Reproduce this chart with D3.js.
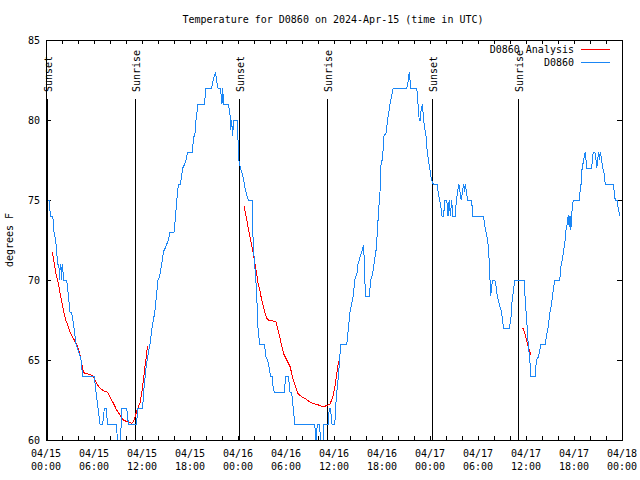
<!DOCTYPE html>
<html><head><meta charset="utf-8">
<script src="https://cdn.jsdelivr.net/npm/d3@7"></script>
<style>
body{margin:0;background:#fff}
svg{display:block;background:#fff}
text{font-family:"DejaVu Sans Mono","Liberation Mono",monospace;font-size:10px;fill:#000}
</style>
</head><body>
<svg id="c" width="640" height="480"></svg>
<script>
const chartTitle = "Temperature for D0860 on 2024-Apr-15 (time in UTC)";
const yAxisLabel = "degrees F";
const seriesNames = ["D0860 Analysis", "D0860"];
const seriesColors = ["#ff0000", "#1a86f5"];
const xTickHours = [0,6,12,18,24,30,36,42,48,54,60,66,72];
const xTickDates = ["04/15","04/15","04/15","04/15","04/16","04/16","04/16","04/16","04/17","04/17","04/17","04/17","04/18"];
const xTickTimes = ["00:00","06:00","12:00","18:00","00:00","06:00","12:00","18:00","00:00","06:00","12:00","18:00","00:00"];
const yTicks = [60,65,70,75,80,85];
const sunsetHours = [0.12, 24.16, 48.2];
const sunriseHours = [11.16, 35.16, 59.04];

// observed station temperature (hours since 04/15 00:00 UTC, deg F)
const observed = [
[0.25,75],[0.4,75],[0.55,74],[0.85,74],[1.0,73],[1.2,72.5],[1.3,72],[1.45,71],[1.6,71],[1.7,70],[1.78,71],[1.85,71],[1.92,70],[2.0,70.8],[2.08,71],[2.17,70],[2.58,70],[2.8,69],[3.0,68],[3.2,68],[3.5,67],[3.75,66],[4.1,65.5],[4.375,65],[4.58,64],[6.04,64],[6.25,63],[6.5,62],[6.75,61],[7.08,61],[7.3,62],[7.5,62],[7.7,61],[8.83,61],[8.95,59.5],[9.3,59.5],[9.45,62],[10.08,62],[10.3,61],[11.33,61],[11.46,62],[12.08,62],[12.2,63],[12.5,64.5],[12.8,65.5],[13.0,66],[13.25,67],[13.6,68],[13.8,69],[14.0,70],[14.2,70.2],[14.46,71],[14.7,71.8],[14.9,72],[15.3,72.5],[15.5,73],[16.0,73],[16.2,74],[16.35,75],[16.55,76],[16.8,76],[17.1,77],[17.3,77.2],[17.5,77.5],[17.7,78],[18.3,78],[18.45,79],[18.6,79],[18.75,80],[18.9,80.6],[19.0,81],[19.8,81],[20.0,82],[20.7,82],[20.9,82.5],[21.2,83],[21.3,82.5],[21.5,82],[21.8,82],[22.0,81],[22.08,82],[22.2,81],[22.8,81],[23.0,80.3],[23.1,79.4],[23.2,80],[23.33,79],[23.45,80],[23.9,80],[24.04,78.3],[24.1,77.5],[24.3,77],[24.5,76.7],[24.7,76.3],[24.9,75.7],[25.1,75.3],[25.3,75],[25.8,75],[25.9,72],[26.04,71.3],[26.15,70.5],[26.3,69.5],[26.4,68.3],[26.5,67],[26.7,66],[27.3,66],[27.5,65.2],[27.7,65],[27.9,64.5],[28.05,64],[28.3,64],[28.4,63.2],[28.55,63],[29.8,63],[29.95,64],[30.3,64],[30.5,63],[30.7,63],[30.9,62],[31.1,61],[33.6,61],[33.75,59.5],[33.9,61],[34.2,61],[34.35,59.5],[34.6,59.5],[34.75,61],[35.3,61],[35.4,62],[35.55,62],[35.75,61],[36.1,61],[36.2,62],[36.35,63],[36.55,64],[36.85,66],[37.6,66],[37.8,67],[38.0,68],[38.2,68.5],[38.4,69],[38.6,70],[38.9,70.5],[39.0,71],[39.3,71.5],[39.6,72],[39.7,72.2],[39.78,71.2],[39.85,70],[39.95,69],[40.4,69],[40.6,70],[40.8,70.3],[41.0,71],[41.3,72],[41.45,73.3],[41.6,74.5],[41.75,75.5],[41.9,77.5],[42.05,77.5],[42.25,79],[42.5,79.2],[42.7,80],[42.85,80.5],[43.0,81],[43.2,81.5],[43.4,82],[45.1,82],[45.3,82.5],[45.4,83],[45.5,82.5],[45.6,82],[46.35,82],[46.5,81],[46.65,80],[46.8,80],[46.9,80.7],[47.05,81],[47.2,80],[47.3,79.6],[47.5,79],[47.6,78.3],[47.75,77.7],[47.85,77.3],[48.0,76.9],[48.1,76.5],[48.25,76.2],[48.4,76],[48.9,76],[49.05,75.4],[49.2,75],[49.35,74.6],[49.5,74],[49.7,74],[49.85,75],[50.1,75],[50.25,74],[50.4,75],[50.55,74],[50.7,75],[50.85,74],[51.15,74],[51.3,75],[51.45,75.5],[51.6,76],[51.75,75.5],[51.9,75],[52.05,75.5],[52.2,76],[52.3,75.5],[52.4,76],[52.55,75.5],[52.7,75],[53.2,75],[53.35,74],[54.7,74],[54.8,73.5],[55.0,73],[55.2,72.5],[55.3,72],[55.4,71.2],[55.5,70],[55.6,69],[55.7,69.6],[55.85,70],[56.1,70],[56.25,69.6],[56.4,69],[56.6,68.6],[56.75,68.3],[56.95,68],[57.05,67.5],[57.2,67],[57.9,67],[58.1,67.5],[58.25,68.6],[58.4,69.2],[58.6,70],[59.75,70],[59.85,69.2],[59.95,68.4],[60.05,67.8],[60.15,67],[60.3,65.8],[60.4,65.4],[60.5,64.8],[60.6,64],[61.15,64],[61.3,65],[61.55,65.2],[61.7,65.5],[61.85,66],[62.4,66],[62.6,66.6],[62.75,67],[62.9,67.6],[63.0,68],[63.2,68.5],[63.3,69],[63.45,69.5],[63.6,70],[64.2,70],[64.3,70.4],[64.4,71],[64.55,71.3],[64.7,71.8],[64.9,72.5],[65.0,73.1],[65.1,73.3],[65.2,73.9],[65.3,74],[65.4,73.3],[65.5,74],[65.6,73.1],[65.75,74.3],[65.9,75],[66.7,75],[66.8,76],[66.9,76],[67.0,76.9],[67.2,77.5],[67.4,78],[67.5,77.5],[67.6,77],[68.2,77],[68.3,77.5],[68.4,78],[68.6,78],[68.75,77.5],[68.85,77],[68.95,77.5],[69.1,78],[69.2,77.5],[69.3,78],[69.45,77.5],[69.6,77],[69.75,76.7],[69.9,76],[70.9,76],[71.0,75.6],[71.15,75],[71.4,75],[71.55,74.4],[71.75,74]
];

// analysis segments
const analysisNight1 = [[0.79,71.73],[1.125,70.73],[1.33,70.2],[1.54,69.8],[1.75,69.17],[1.96,68.65],[2.17,68.12],[2.46,67.5],[2.79,67.08],[3.0,66.77],[3.21,66.56],[3.42,66.35],[3.75,66.04],[3.96,65.83],[4.25,65.3],[4.46,64.8],[4.67,64.27],[4.875,64.17],[5.5,64.1],[5.92,63.96],[6.125,63.75],[6.33,63.54],[6.75,63.23],[7.17,63.08],[7.58,63.02],[7.79,62.92],[8.0,62.7],[8.42,62.3],[8.83,61.88],[9.25,61.56],[9.67,61.25],[10.08,61.15],[10.5,61.08],[10.75,61.04],[10.92,61.15],[11.125,61.46],[11.33,61.77],[11.54,62.08],[11.75,62.3],[11.96,62.92],[12.17,63.75],[12.375,64.6],[12.58,65.3],[12.67,65.88]];
const analysisNight2 = [[24.75,74.6],[25.0,74.0],[25.3,73.2],[25.5,72.7],[25.7,72.2],[25.9,71.7],[26.1,71.1],[26.3,70.5],[26.5,69.8],[26.75,69.3],[26.96,68.75],[27.2,68.3],[27.4,67.9],[27.6,67.6],[27.8,67.5],[28.2,67.46],[28.75,67.4],[28.9,67.1],[29.2,66.5],[29.5,65.8],[29.7,65.4],[30.1,65.0],[30.5,64.6],[30.7,64.2],[30.9,63.75],[31.3,63.2],[31.5,62.9],[31.96,62.7],[32.375,62.6],[32.8,62.44],[33.2,62.33],[33.6,62.25],[34.0,62.2],[34.67,62.08],[35.1,62.15],[35.5,62.25],[35.7,62.5],[35.9,62.8],[36.1,63.3],[36.3,64.0],[36.5,64.7],[36.75,65.1]];
const analysisNight3 = [[59.6,67.0],[59.9,66.6],[60.1,66.2],[60.3,65.8],[60.5,65.5],[60.65,65.3]];

const svg = d3.select("#c");
const L = 46, T = 40, W = 576, H = 400;
const x = d3.scaleLinear().domain([0,72]).range([L, L+W]);
const y = d3.scaleLinear().domain([60,85]).range([T+H, T]);

svg.append("defs").append("clipPath").attr("id","clip")
  .append("rect").attr("x",L).attr("y",T).attr("width",W).attr("height",H);

// title
svg.append("text").attr("x",333).attr("y",23).attr("text-anchor","middle").text(chartTitle);
// y label
svg.append("text").attr("transform","translate(13,240) rotate(-90)").attr("text-anchor","middle").text(yAxisLabel);

// minor/major x ticks every 2h, top and bottom
const g = svg.append("g").attr("shape-rendering","crispEdges");
const xt = d3.range(0,73,2);
xt.forEach(h => {
  const px = Math.round(x(h)) + 0.5;
  g.append("line").attr("x1",px).attr("x2",px).attr("y1",T+H).attr("y2",T+H-4).attr("stroke","#000");
  g.append("line").attr("x1",px).attr("x2",px).attr("y1",T).attr("y2",T+4).attr("stroke","#000");
});
yTicks.forEach(v => {
  const py = Math.round(y(v)) + 0.5;
  g.append("line").attr("x1",L).attr("x2",L+5).attr("y1",py).attr("y2",py).attr("stroke","#000");
  g.append("line").attr("x1",L+W).attr("x2",L+W-5).attr("y1",py).attr("y2",py).attr("stroke","#000");
  svg.append("text").attr("x",40).attr("y",y(v)+4).attr("text-anchor","end").text(v);
});
xTickHours.forEach((h,i) => {
  svg.append("text").attr("x",x(h)).attr("y",457).attr("text-anchor","middle").text(xTickDates[i]);
  svg.append("text").attr("x",x(h)).attr("y",470).attr("text-anchor","middle").text(xTickTimes[i]);
});

// sunrise / sunset markers
const events = sunsetHours.map(h => ({h, label:"Sunset"})).concat(sunriseHours.map(h => ({h, label:"Sunrise"})));
events.forEach(e => {
  const px = Math.round(x(e.h)) + 0.5;
  g.append("line").attr("x1",px).attr("x2",px).attr("y1",99).attr("y2",T+H).attr("stroke","#000");
  svg.append("text").attr("transform",`translate(${px+4.5},92) rotate(-90)`).attr("text-anchor","start").text(e.label);
});

// data
const line = d3.line().x(d => x(d[0])).y(d => y(d[1]));
const dg = svg.append("g").attr("clip-path","url(#clip)");
[analysisNight1, analysisNight2, analysisNight3].forEach(seg => {
  dg.append("path").attr("d", line(seg)).attr("fill","none").attr("stroke",seriesColors[0]).attr("stroke-width",1).attr("shape-rendering","crispEdges");
});
dg.append("path").attr("d", line(observed)).attr("fill","none").attr("stroke",seriesColors[1]).attr("stroke-width",1).attr("shape-rendering","crispEdges");

// frame
g.append("rect").attr("x",L+0.5).attr("y",T+0.5).attr("width",W).attr("height",H).attr("fill","none").attr("stroke","#000");

// legend
seriesNames.forEach((n,i) => {
  const ly = 49 + i*13;
  svg.append("text").attr("x",574).attr("y",ly+4).attr("text-anchor","end").text(n);
  g.append("line").attr("x1",581).attr("x2",610).attr("y1",ly+0.5).attr("y2",ly+0.5).attr("stroke",seriesColors[i]);
});
</script>
</body></html>
